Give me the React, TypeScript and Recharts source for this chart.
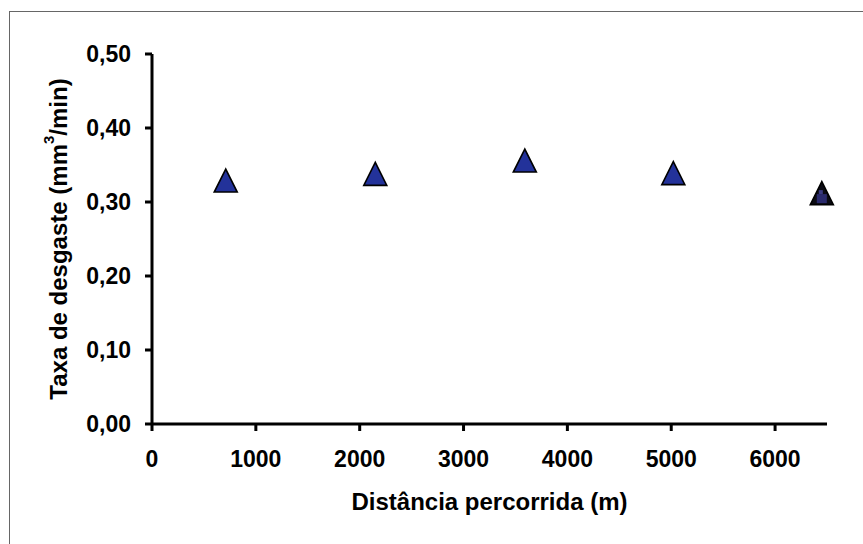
import { Label, Scatter, ScatterChart, XAxis, YAxis } from "recharts";

// distância percorrida (m) x taxa de desgaste (mm³/min)
const distancias = [710, 2150, 3590, 5020, 6450];
const taxas = [0.329, 0.338, 0.356, 0.339, 0.312];

const xTicks = [0, 1000, 2000, 3000, 4000, 5000, 6000];
const yTicks = [0, 0.1, 0.2, 0.3, 0.4, 0.5];

const pontos = distancias.slice(0, 4).map((x, i) => ({ x, y: taxas[i] }));
const ultimo = [{ x: distancias[4], y: taxas[4] }];

const FONT = "'Liberation Sans', Arial, Helvetica, sans-serif";
const tickStyle = { fontFamily: FONT, fontSize: 23, fontWeight: 700, fill: "#000" };

function Triangulo({ cx, cy, fill }: { cx?: number; cy?: number; fill?: string }) {
  if (cx == null || cy == null) return null;
  const h = 11.5;
  const w = 11.5;
  return (
    <polygon
      points={`${cx},${cy - h} ${cx - w},${cy + h} ${cx + w},${cy + h}`}
      fill={fill}
      stroke="#000"
      strokeWidth={1.6}
      strokeLinejoin="miter"
    />
  );
}

// o último ponto aparece escuro, com uma mancha azul por dentro
function TrianguloEscuro({ cx, cy }: { cx?: number; cy?: number }) {
  if (cx == null || cy == null) return null;
  return (
    <g>
      <Triangulo cx={cx} cy={cy} fill="#0b0b14" />
      <rect x={cx - 5} y={cy + 1} width={10} height={9} fill="#2a2a6c" />
      <rect x={cx - 3} y={cy - 3} width={4} height={4} fill="#3a3a80" />
    </g>
  );
}

function TituloY({ viewBox }: any) {
  const cx = (viewBox?.x ?? 0) + 58;
  const cy = (viewBox?.y ?? 0) + (viewBox?.height ?? 0) / 2;
  return (
    <text
      transform={`translate(${cx},${cy}) rotate(-90)`}
      textAnchor="middle"
      dominantBaseline="central"
      fontFamily={FONT}
      fontSize={24}
      fontWeight={700}
      fill="#000"
    >
      Taxa de desgaste (mm
      <tspan fontSize={15} dy={-10}>
        3
      </tspan>
      <tspan dy={10}>/min)</tspan>
    </text>
  );
}

export default function App() {
  return (
    <div
      style={{
        position: "absolute",
        left: 0,
        top: 0,
        width: 863,
        height: 544,
        background: "#fff",
        overflow: "hidden",
      }}
    >
      <div
        style={{
          position: "absolute",
          left: 9,
          top: 11,
          width: 860,
          height: 540,
          borderTop: "1px solid #666",
          borderLeft: "1px solid #666",
        }}
      />
      <ScatterChart
        width={863}
        height={544}
        margin={{ top: 54, right: 36, bottom: 0, left: 0 }}
        style={{ position: "absolute", left: 0, top: 0 }}
      >
        <XAxis
          type="number"
          dataKey="x"
          domain={[0, 6500]}
          ticks={xTicks}
          interval={0}
          height={120}
          tick={tickStyle}
          axisLine={{ stroke: "#000", strokeWidth: 3 }}
          tickLine={{ stroke: "#000", strokeWidth: 3 }}
          tickSize={7}
          tickMargin={20}
        >
          <Label
            value="Distância percorrida (m)"
            position="insideBottom"
            offset={34}
            style={{ fontFamily: FONT, fontSize: 24, fontWeight: 700, fill: "#000" }}
          />
        </XAxis>
        <YAxis
          type="number"
          dataKey="y"
          domain={[0, 0.5]}
          ticks={yTicks}
          interval={0}
          width={152}
          tick={tickStyle}
          tickFormatter={(v: number) => v.toFixed(2).replace(".", ",")}
          axisLine={{ stroke: "#000", strokeWidth: 3 }}
          tickLine={{ stroke: "#000", strokeWidth: 3 }}
          tickSize={7}
          tickMargin={14}
        >
          <Label content={<TituloY />} />
        </YAxis>
        <Scatter
          data={pontos}
          fill="#23329a"
          shape={<Triangulo />}
          isAnimationActive={false}
        />
        <Scatter data={ultimo} shape={<TrianguloEscuro />} isAnimationActive={false} />
      </ScatterChart>
    </div>
  );
}
